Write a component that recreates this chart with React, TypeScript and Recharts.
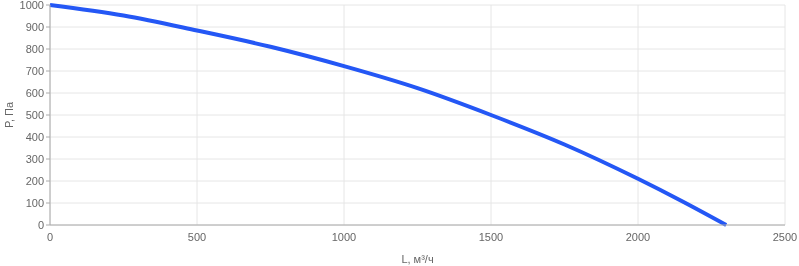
import React from "react";
import { LineChart, Line, XAxis, YAxis, CartesianGrid, Label } from "recharts";

const flowValues = [0, 250, 500, 750, 1000, 1250, 1500, 1750, 2000, 2150, 2300];
const pressureValues = [1000, 952, 884, 810, 722, 622, 500, 366, 210, 108, 0];
const xTicks = [0, 500, 1000, 1500, 2000, 2500];
const yTicks = [0, 100, 200, 300, 400, 500, 600, 700, 800, 900, 1000];

const data = flowValues.map((l, i) => ({ l, p: pressureValues[i] }));

const font = "'Liberation Sans', Arial, sans-serif";

export default function App() {
  return (
    <div style={{ position: "absolute", left: 0, top: 0, willChange: "transform" }}>
      <LineChart
        width={799}
        height={266}
        data={data}
        margin={{ top: 5, right: 14, bottom: 0, left: 0 }}
        style={{ fontFamily: font }}
      >
        <CartesianGrid stroke="#e6e6e6" strokeWidth={1} />
        <XAxis
          dataKey="l"
          type="number"
          domain={[0, 2500]}
          ticks={xTicks}
          height={41}
          tickLine={false}
          axisLine={{ stroke: "#aaaaaa" }}
          tick={{ fill: "#666666", fontSize: 11, fontFamily: font }}
          interval={0}
        >
          <Label
            value="L, м³/ч"
            position="insideBottom"
            offset={3}
            style={{ fill: "#666666", fontSize: 11, fontFamily: font }}
          />
        </XAxis>
        <YAxis
          type="number"
          domain={[0, 1000]}
          ticks={yTicks}
          width={50}
          tickSize={4}
          tickMargin={2}
          tickLine={{ stroke: "#aaaaaa" }}
          axisLine={{ stroke: "#aaaaaa" }}
          tick={{ fill: "#666666", fontSize: 11, fontFamily: font }}
          interval={0}
        >
          <Label
            value="P, Па"
            angle={-90}
            position="insideLeft"
            offset={9}
            style={{ fill: "#666666", fontSize: 11, fontFamily: font, textAnchor: "middle" }}
          />
        </YAxis>
        <Line
          dataKey="p"
          type="monotone"
          stroke="#2457f5"
          strokeWidth={4}
          dot={false}
          isAnimationActive={false}
        />
      </LineChart>
    </div>
  );
}
